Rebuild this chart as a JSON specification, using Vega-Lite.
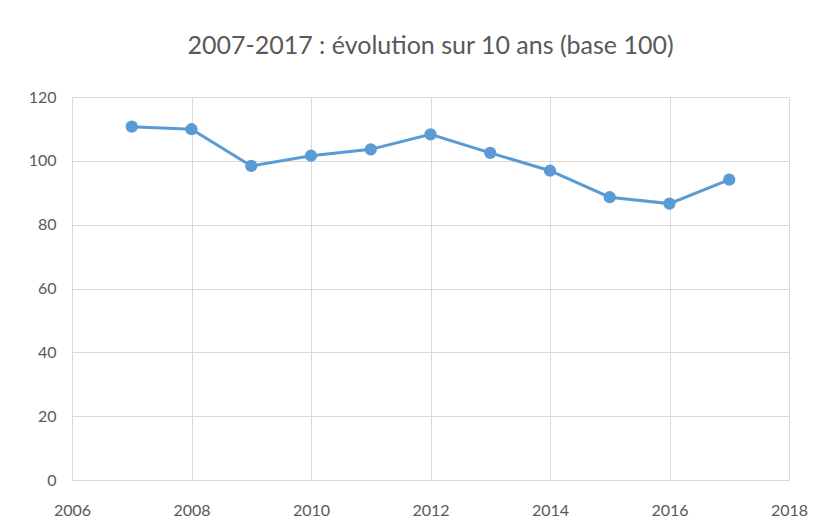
{
  "$schema": "https://vega.github.io/schema/vega-lite/v6.json",
  "autosize": "none",
  "width": 717,
  "height": 383,
  "padding": {"left": 72, "top": 97, "right": 36, "bottom": 49},
  "background": "white",
  "title": {
    "text": "2007-2017 : évolution sur 10 ans (base 100)",
    "font": "Lato",
    "fontSize": 25,
    "fontWeight": "normal",
    "color": "#595959",
    "anchor": "middle",
    "offset": 30
  },
  "config": {
    "view": {"stroke": null},
    "axis": {
      "labelFont": "Lato",
      "labelFontSize": 16,
      "labelColor": "#595959",
      "gridColor": "#d9d9d9",
      "gridWidth": 1,
      "ticks": false,
      "domain": false,
      "title": null
    }
  },
  "data": {
    "values": [
      {"year": 2007, "value": 110.7},
      {"year": 2008, "value": 109.9},
      {"year": 2009, "value": 98.4},
      {"year": 2010, "value": 101.6},
      {"year": 2011, "value": 103.6},
      {"year": 2012, "value": 108.3},
      {"year": 2013, "value": 102.5},
      {"year": 2014, "value": 96.9},
      {"year": 2015, "value": 88.6},
      {"year": 2016, "value": 86.6},
      {"year": 2017, "value": 94.1}
    ]
  },
  "mark": {
    "type": "line",
    "color": "#5b9bd5",
    "strokeWidth": 3,
    "point": {"filled": true, "color": "#5b9bd5", "size": 150, "opacity": 1}
  },
  "encoding": {
    "x": {
      "field": "year",
      "type": "quantitative",
      "scale": {"domain": [2006, 2018], "nice": false, "zero": false},
      "axis": {"values": [2006, 2008, 2010, 2012, 2014, 2016, 2018], "format": "d", "labelPadding": 22, "labelFlush": false}
    },
    "y": {
      "field": "value",
      "type": "quantitative",
      "scale": {"domain": [0, 120], "nice": false},
      "axis": {"values": [0, 20, 40, 60, 80, 100, 120], "labelPadding": 16}
    }
  }
}
